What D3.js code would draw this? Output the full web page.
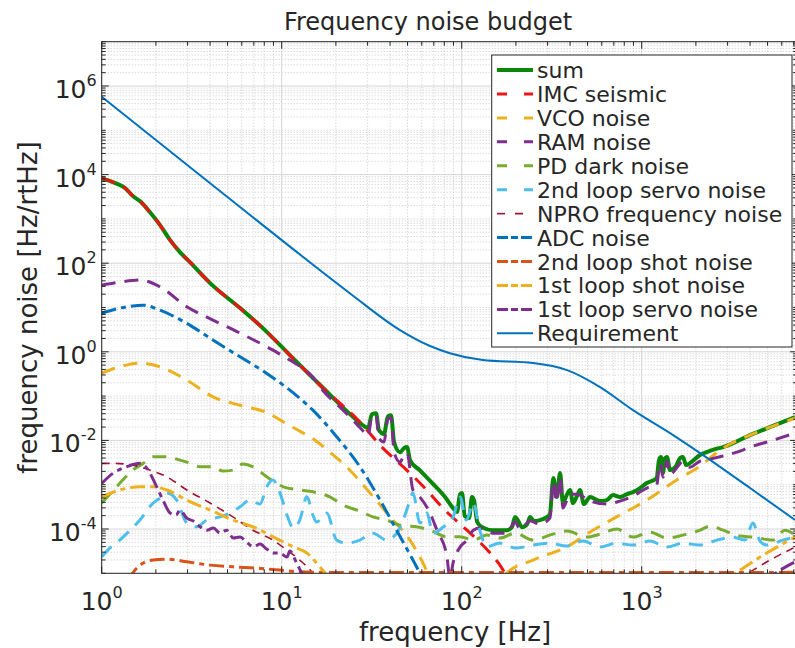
<!DOCTYPE html>
<html>
<head>
<meta charset="utf-8">
<script src="https://cdn.jsdelivr.net/npm/d3@7/dist/d3.min.js"></script>
<style>
  body { margin: 0; background: #fff; }
  svg text { font-family: "DejaVu Sans", sans-serif; fill: #262626; }
</style>
</head>
<body>
<script>
const WIDTH = 795, HEIGHT = 648;
const PLOT = { left: 101.7, right: 797.1, top: 41.7, bottom: 573.3 };
const X_DOMAIN = [1, 7300];
const Y_DOMAIN = [1e-5, 1e7];
const X_TICKS = [1, 10, 100, 1000];
const Y_TICKS = [1e-4, 1e-2, 1, 1e2, 1e4, 1e6];

const LABELS = [
  "sum", "IMC seismic", "VCO noise", "RAM noise", "PD dark noise",
  "2nd loop servo noise", "NPRO frequency noise", "ADC noise",
  "2nd loop shot noise", "1st loop shot noise", "1st loop servo noise", "Requirement",
];

// [frequency Hz, noise Hz/rtHz]
const sumNoise = [
  [1, 8.3e3], [1.19, 6.4e3], [1.35, 4.95e3], [1.49, 3.27e3], [1.63, 2.52e3], [1.85, 1.43e3],
  [2.11, 725], [2.4, 332], [2.72, 178], [3.09, 106], [4.0, 35.6], [5.87, 9.7], [8.07, 3.09],
  [10.7, 0.98], [16.3, 0.18], [26.1, 0.0287], [28.7, 0.021], [30.2, 0.019], [31.7, 0.039],
  [33.4, 0.041], [34.7, 0.017], [37.0, 0.0139], [38.9, 0.035], [40.5, 0.037], [42.1, 0.0092],
  [45.4, 0.0054], [47.8, 0.0067], [49.7, 0.0071], [51.6, 0.0036], [58.6, 0.0021], [69.3, 0.00104],
  [80.8, 5.25e-4], [89.5, 2.96e-4], [94.2, 2.41e-4], [97.9, 6.14e-4], [100.4, 6.46e-4],
  [104, 1.96e-4], [110, 1.76e-4], [114, 5.25e-4], [117, 4.49e-4], [122, 1.43e-4], [130, 1.1e-4],
  [149, 9.4e-5], [178, 9.4e-5], [190, 1.1e-4], [198, 1.86e-4], [205, 1.59e-4], [216, 1.1e-4],
  [231, 1.29e-4], [240, 1.86e-4], [252, 1.51e-4], [272, 1.59e-4], [297, 1.86e-4], [309, 2.17e-4],
  [323, 1.41e-3], [337, 5.25e-4], [352, 1.83e-3], [365, 3.85e-4], [383, 5.82e-4], [400, 7.6e-4],
  [415, 3.85e-4], [439, 5.82e-4], [454, 7.6e-4], [478, 3.65e-4], [516, 5.25e-4], [586, 4.27e-4],
  [640, 4.49e-4], [693, 5.82e-4], [757, 5.25e-4], [828, 6.14e-4], [895, 6.81e-4], [979, 8.4e-4],
  [1067, 1.09e-3], [1211, 1.41e-3], [1248, 3.59e-3], [1280, 4.2e-3], [1313, 1.83e-3],
  [1347, 3.98e-3], [1382, 4.2e-3], [1436, 2.14e-3], [1551, 2.63e-3], [1632, 3.98e-3],
  [1695, 4.2e-3], [1763, 2.77e-3], [1854, 3.07e-3], [2109, 4.66e-3], [2297, 5.44e-3],
  [2554, 6.37e-3], [2831, 7.06e-3], [3316, 9.16e-3], [3997, 0.0132], [4842, 0.018],
  [5867, 0.0246], [7110, 0.0336],
];
const imcSeismic = [
  [1, 8.3e3], [1.19, 6.4e3], [1.35, 4.95e3], [1.49, 3.27e3], [1.63, 2.52e3], [1.85, 1.43e3],
  [2.11, 725], [2.4, 332], [2.72, 178], [3.09, 106], [4.0, 35.6], [5.87, 9.7], [8.07, 3.09],
  [10.7, 0.98], [16.3, 0.177], [27.2, 0.0259], [36.5, 0.0067], [49.5, 0.00214], [63.9, 7.6e-4],
  [78.7, 2.96e-4], [107, 9.4e-5], [126, 5.06e-5], [144, 2.86e-5], [163, 1.53e-5], [174, 1.01e-5],
  [185, 7e-6],
];
const vcoNoise = [
  [1, 0.33], [1.26, 0.458], [1.63, 0.556], [2.11, 0.458], [2.97, 0.23], [4.15, 0.096],
  [5.87, 0.062], [8.39, 0.0413], [10.7, 0.0233], [12.6, 0.0162], [15.6, 0.0096], [18.5, 0.00544],
  [23.0, 0.00251], [31.0, 6.46e-4], [40.0, 1.88e-4], [51.6, 5.61e-5], [61.0, 1.7e-5], [66.7, 7.8e-6],
  [75, 4e-6], [150, 4e-6], [178, 1.01e-5], [249, 1.99e-5], [383, 3.96e-5], [536, 9.4e-5],
  [726, 1.88e-4], [1067, 4.49e-4], [1564, 1.27e-3], [2109, 2.63e-3], [2723, 6.04e-3],
  [3997, 0.0132], [5360, 0.021], [7110, 0.0319],
];
const ramNoise = [
  [1, 32], [1.26, 37.4], [1.63, 41.6], [2.11, 29.3], [2.97, 10.4], [4.15, 5.2], [5.87, 2.64],
  [8.26, 1.3], [11.1, 0.65], [14.9, 0.269], [16.9, 0.136], [21.9, 0.0483], [26.1, 0.0233],
  [28.7, 0.0154], [30.2, 0.0125], [31.7, 0.0354], [33.4, 0.0372], [34.7, 0.0113], [37.0, 0.00916],
  [38.9, 0.0303], [40.5, 0.0319], [42.1, 0.00544], [45.4, 0.00324], [47.8, 0.00466], [49.7, 0.00517],
  [53.6, 7.6e-4], [58.6, 5.25e-4], [66.7, 2.29e-4], [72.9, 9.4e-5], [82.5, 2.58e-5], [86.1, 7.8e-6],
  [89.5, 1.7e-5], [97.9, 3.9e-5], [107, 5.61e-5], [116, 9.4e-5], [126, 1.05e-4], [149, 8.07e-5],
  [178, 8.07e-5], [198, 1.43e-4], [211, 9.95e-5], [240, 1.51e-4], [272, 1.29e-4], [309, 1.76e-4],
  [323, 1.21e-3], [337, 4.05e-4], [352, 1.48e-3], [365, 2.96e-4], [400, 6.14e-4], [454, 5.82e-4],
  [516, 4.27e-4], [640, 3.65e-4], [757, 4.27e-4], [895, 5.53e-4], [1067, 8.4e-4], [1211, 9.8e-4],
  [1264, 3.07e-3], [1313, 1.48e-3], [1382, 3.41e-3], [1436, 1.73e-3], [1695, 3.24e-3],
  [1854, 2.49e-3], [2109, 3.41e-3], [2396, 3.78e-3], [2831, 4.43e-3], [3516, 5.73e-3],
  [3997, 7.06e-3], [5162, 9.64e-3], [7110, 0.0146],
];
const pdDarkNoise = [
  [1, 3.85e-4], [1.21, 8.97e-4], [1.49, 2.14e-3], [1.7, 3.03e-3], [1.93, 4.27e-3], [2.3, 4.27e-3],
  [2.72, 3.59e-3], [3.09, 3.07e-3], [3.52, 2.54e-3], [4.15, 2.54e-3], [4.72, 2.03e-3], [5.36, 2.14e-3],
  [6.1, 2.92e-3], [6.93, 2.54e-3], [8.26, 1.51e-3], [10.2, 8.97e-4], [12.6, 7.6e-4], [14.9, 6.9e-4],
  [18.5, 5.33e-4], [21.9, 3.47e-4], [27.2, 2.54e-4], [32.1, 1.88e-4], [38.3, 1.59e-4], [45.4, 1.22e-4],
  [56.2, 1.12e-4], [66.7, 9.4e-5], [82.5, 6.67e-5], [97.9, 6.67e-5], [116, 5.61e-5], [138, 7.28e-5],
  [163, 6.24e-5], [198, 8.07e-5], [249, 5.61e-5], [309, 7.28e-5], [385, 8.97e-5], [495, 6.56e-5],
  [586, 7.67e-5], [729, 9.95e-5], [895, 6.56e-5], [1112, 8.51e-5], [1382, 6.24e-5], [1695, 7.28e-5],
  [2109, 9.4e-5], [2396, 1.16e-4], [2831, 9.4e-5], [3516, 6.92e-5], [4150, 6.56e-5], [5360, 5.61e-5],
  [6252, 9.4e-5], [7110, 7.28e-5],
];
const servo2Noise = [
  [1, 2.36e-5], [1.11, 3.71e-5], [1.26, 5.61e-5], [1.44, 9.4e-5], [1.63, 1.59e-4], [1.93, 3.85e-4],
  [2.11, 4.99e-4], [2.3, 6.46e-4], [2.61, 4.49e-4], [2.97, 1.36e-4], [3.37, 1.12e-4], [3.83, 1.59e-4],
  [4.54, 1.88e-4], [5.16, 2.29e-4], [5.87, 3.17e-4], [6.67, 4.49e-4], [7.57, 3.65e-4], [8.26, 8.97e-4],
  [8.95, 1.27e-3], [9.79, 6.46e-4], [10.7, 2.06e-4], [11.6, 1.05e-4], [12.6, 1.59e-4], [13.8, 5.33e-4],
  [14.9, 2.06e-4], [15.6, 1.43e-4], [17.8, 2.29e-4], [20.2, 5.61e-5], [23.0, 4.8e-5], [27.2, 5.61e-5],
  [32.1, 8.07e-5], [38.3, 5.61e-5], [45.4, 1.05e-4], [49.5, 2.67e-4], [53.6, 6.46e-4], [58.6, 1.36e-4],
  [63.9, 2.29e-4], [69.3, 8.07e-5], [78.7, 1.1e-4], [89.5, 1.86e-4], [97.9, 5.25e-4], [106, 1.59e-4],
  [116, 3.85e-4], [126, 9.4e-5], [138, 3.96e-5], [163, 4.8e-5], [200, 3.71e-5], [249, 4.33e-5],
  [309, 4.8e-5], [383, 4.11e-5], [472, 5.33e-5], [586, 3.9e-5], [720, 4.8e-5], [895, 4.33e-5],
  [1112, 5.33e-5], [1377, 3.9e-5], [1695, 4.8e-5], [2109, 4.33e-5], [2620, 5.61e-5], [3215, 6.56e-5],
  [3750, 5.61e-5], [4150, 1.36e-4], [4542, 5.33e-5], [4946, 4.33e-5], [6095, 5.61e-5], [7110, 6.56e-5],
];
const nproNoise = [
  [1, 3.03e-3], [1.16, 3.03e-3], [1.49, 2.77e-3], [1.85, 2.14e-3], [2.3, 1.51e-3], [2.97, 7.6e-4],
  [4.0, 3.85e-4], [5.36, 1.88e-4], [6.93, 9.4e-5], [8.95, 5.61e-5], [10.7, 3.34e-5], [12.6, 1.99e-5],
  [14.4, 1.18e-5], [15.5, 7.8e-6], [30, 2e-6], [2000, 2e-6], [3750, 9.1e-6], [5162, 1.99e-5],
  [7110, 3.9e-5],
];
const adcNoise = [
  [1, 7.4], [1.38, 10.4], [1.7, 11.3], [2.11, 8.7], [2.97, 4.38], [4.15, 1.84], [5.87, 0.77],
  [8.26, 0.325], [11.1, 0.136], [14.9, 0.0483], [20.2, 0.0121], [27.2, 0.00254], [35.2, 4.49e-4],
  [43.5, 9.4e-5], [53.6, 1.99e-5], [58.6, 1.01e-5], [62.5, 6.3e-6],
];
const shot2Noise = [
  [1.4, 7e-6], [1.53, 1.18e-5], [1.7, 1.7e-5], [1.93, 1.99e-5], [2.3, 2.09e-5], [2.97, 1.82e-5],
  [4.0, 1.53e-5], [5.36, 1.4e-5], [7.26, 1.31e-5], [9.79, 1.18e-5], [12.6, 1.08e-5], [23.9, 1.04e-5],
  [100, 1.04e-5], [1000, 1.04e-5], [7110, 1.05e-5],
];
const shot1Noise = [
  [1, 5.33e-4], [1.26, 7.6e-4], [1.63, 8.97e-4], [1.93, 8.97e-4], [2.3, 7.6e-4], [2.97, 4.49e-4],
  [4.0, 2.67e-4], [5.36, 1.59e-4], [6.93, 1.12e-4], [8.95, 6.67e-5], [11.6, 3.96e-5], [13.8, 2.86e-5],
  [16.3, 1.4e-5], [17.8, 9.1e-6], [25, 2e-6], [2000, 2e-6], [3215, 9.1e-6], [4946, 2.86e-5],
  [7110, 6.56e-5],
];
const servo1Noise = [
  [1, 1.07e-3], [1.16, 1.83e-3], [1.38, 2.54e-3], [1.63, 3.03e-3], [1.78, 2.37e-3], [2.02, 8.97e-4],
  [2.19, 4.49e-4], [2.4, 2.29e-4], [2.59, 2.06e-4], [2.72, 2.67e-4], [2.97, 1.76e-4], [3.23, 1.51e-4],
  [3.52, 1.12e-4], [3.83, 9.4e-5], [4.17, 1.05e-4], [4.54, 8.07e-5], [4.95, 9.4e-5], [5.38, 6.24e-5],
  [5.87, 6.56e-5], [6.39, 5.06e-5], [6.95, 3.96e-5], [7.57, 4.56e-5], [8.26, 3.52e-5], [8.98, 2.86e-5],
  [9.79, 2.86e-5], [10.7, 2.32e-5], [11.1, 3.17e-5], [12.1, 1.7e-5], [13.1, 9.1e-6], [16, 3e-6],
  [4000, 3e-6], [5360, 9.1e-6], [7110, 1.82e-5],
];
const requirement = [
  [1, 5.7e5], [3.52, 9.7e3], [10, 332], [23.9, 21], [45.4, 3.09], [66.7, 1.35], [86, 0.93],
  [131, 0.65], [249, 0.556], [385, 0.386], [587, 0.16], [895, 0.0483], [1494, 0.0132],
  [2193, 0.00466], [4000, 8.4e-4], [7110, 1.6e-4],
];

const SERIES_DATA = [
  sumNoise, imcSeismic, vcoNoise, ramNoise, pdDarkNoise, servo2Noise,
  nproNoise, adcNoise, shot2Noise, shot1Noise, servo1Noise, requirement,
];

// MATLAB-ish line styles: "--" and "-." ; key = pattern used in the legend sample
const DASH = "14,9", DASHDOT = "15,5,5,5", THIN_DASH = "8,6";
const STYLES = [
  { color: "#0a870a", width: 4, dash: null, key: null },
  { color: "#ee1414", width: 3, dash: DASH, key: "10,17" },
  { color: "#edb120", width: 3, dash: DASH, key: "10,17" },
  { color: "#7e2f8e", width: 3, dash: DASH, key: "10,17" },
  { color: "#77ac30", width: 3, dash: DASH, key: "10,17" },
  { color: "#4dbeee", width: 3, dash: DASH, key: "10,17" },
  { color: "#a2142f", width: 1.6, dash: THIN_DASH, key: "8,10" },
  { color: "#0072bd", width: 3, dash: DASHDOT, key: "11,3,7,3" },
  { color: "#d95319", width: 3, dash: DASHDOT, key: "11,3,7,3" },
  { color: "#edb120", width: 3, dash: DASHDOT, key: "11,3,7,3" },
  { color: "#7e2f8e", width: 3, dash: DASHDOT, key: "11,3,7,3" },
  { color: "#0072bd", width: 2, dash: null, key: null },
];

const x = d3.scaleLog().domain(X_DOMAIN).range([PLOT.left, PLOT.right]);
const y = d3.scaleLog().domain(Y_DOMAIN).range([PLOT.bottom, PLOT.top]);

function minorValues(domain) {
  const out = [];
  const lo = Math.floor(Math.log10(domain[0])), hi = Math.ceil(Math.log10(domain[1]));
  for (let e = lo; e <= hi; e++) {
    for (let k = 1; k < 10; k++) {
      const v = k * Math.pow(10, e);
      if (v >= domain[0] && v <= domain[1]) out.push(v);
    }
  }
  return out;
}
const isMajor = (v, majors) => majors.some(m => Math.abs(Math.log10(v) - Math.log10(m)) < 1e-6);

const svg = d3.select("body").append("svg")
  .attr("width", WIDTH).attr("height", HEIGHT)
  .attr("viewBox", [0, 0, WIDTH, HEIGHT]);

svg.append("defs").append("clipPath").attr("id", "plotclip")
  .append("rect")
  .attr("x", PLOT.left).attr("y", PLOT.top)
  .attr("width", PLOT.right - PLOT.left).attr("height", PLOT.bottom - PLOT.top);

// grid: dotted minor, solid major
const xMinor = minorValues(X_DOMAIN).filter(v => !isMajor(v, X_TICKS));
const yMinor = minorValues(Y_DOMAIN).filter(v => !isMajor(v, Y_TICKS));
const grid = svg.append("g");
grid.append("g").attr("stroke", "#c9c9c9").attr("stroke-dasharray", "1,2")
  .call(g => g.selectAll(".vx").data(xMinor).join("line")
    .attr("x1", d => x(d)).attr("x2", d => x(d)).attr("y1", PLOT.top).attr("y2", PLOT.bottom))
  .call(g => g.selectAll(".hy").data(yMinor).join("line")
    .attr("y1", d => y(d)).attr("y2", d => y(d)).attr("x1", PLOT.left).attr("x2", PLOT.right));
grid.append("g").attr("stroke", "#d6d6d6")
  .call(g => g.selectAll(".vx").data(X_TICKS).join("line")
    .attr("x1", d => x(d)).attr("x2", d => x(d)).attr("y1", PLOT.top).attr("y2", PLOT.bottom))
  .call(g => g.selectAll(".hy").data(Y_TICKS).join("line")
    .attr("y1", d => y(d)).attr("y2", d => y(d)).attr("x1", PLOT.left).attr("x2", PLOT.right));

// curves
const plot = svg.append("g").attr("clip-path", "url(#plotclip)").attr("fill", "none");
const line = d3.line().x(d => x(d[0])).y(d => y(d[1])).curve(d3.curveMonotoneX);
SERIES_DATA.forEach((data, i) => {
  const st = STYLES[i];
  plot.append("path")
    .attr("d", line(data))
    .attr("stroke", st.color)
    .attr("stroke-width", st.width)
    .attr("stroke-dasharray", st.dash)
    .attr("stroke-linejoin", "round");
});

// ticks (inward, all sides)
const ticks = svg.append("g").attr("stroke", "#262626").attr("stroke-width", 1);
ticks.selectAll(".tx").data(minorValues(X_DOMAIN)).join("path")
  .attr("d", d => {
    const len = isMajor(d, X_TICKS) ? 7 : 4;
    return `M${x(d)},${PLOT.bottom}v${-len}M${x(d)},${PLOT.top}v${len}`;
  });
ticks.selectAll(".ty").data(minorValues(Y_DOMAIN)).join("path")
  .attr("d", d => {
    const len = isMajor(d, Y_TICKS) ? 7 : 4;
    return `M${PLOT.left},${y(d)}h${len}M${PLOT.right},${y(d)}h${-len}`;
  });

// frame
svg.append("rect")
  .attr("x", PLOT.left).attr("y", PLOT.top)
  .attr("width", PLOT.right - PLOT.left).attr("height", PLOT.bottom - PLOT.top)
  .attr("fill", "none").attr("stroke", "#262626").attr("stroke-width", 1);

// tick labels
const expOf = d => Math.round(Math.log10(d));
const xLab = svg.append("g").selectAll("text").data(X_TICKS).join("text")
  .attr("x", d => x(d)).attr("y", 610)
  .attr("text-anchor", "middle").attr("font-size", 25);
xLab.append("tspan").text("10");
xLab.append("tspan").attr("dy", -12).attr("font-size", 16).text(d => expOf(d));

const yLab = svg.append("g").selectAll("text").data(Y_TICKS).join("text")
  .attr("x", PLOT.left - 5).attr("y", d => y(d) + 12)
  .attr("text-anchor", "end").attr("font-size", 25);
yLab.append("tspan").text("10");
yLab.append("tspan").attr("dy", -12).attr("font-size", 16).text(d => expOf(d));

// axis labels + title
svg.append("text")
  .attr("x", 455).attr("y", 641)
  .attr("text-anchor", "middle").attr("font-size", 26)
  .text("frequency [Hz]");
svg.append("text")
  .attr("transform", `translate(37, ${(PLOT.top + PLOT.bottom) / 2}) rotate(-90)`)
  .attr("text-anchor", "middle").attr("font-size", 26)
  .text("frequency noise [Hz/rtHz]");
svg.append("text")
  .attr("x", 428).attr("y", 30)
  .attr("text-anchor", "middle").attr("font-size", 24)
  .text("Frequency noise budget");

// legend
const LEG = { x: 491.7, y: 55, w: 300.3, h: 292, row: 23.94, first: 70 };
const legend = svg.append("g");
legend.append("rect")
  .attr("x", LEG.x).attr("y", LEG.y).attr("width", LEG.w).attr("height", LEG.h)
  .attr("fill", "#fff").attr("stroke", "#262626").attr("stroke-width", 1);
const rows = legend.selectAll(".row").data(LABELS).join("g")
  .attr("transform", (d, i) => `translate(0, ${LEG.first + i * LEG.row})`);
rows.append("line")
  .attr("x1", 497).attr("x2", 533).attr("y1", 0).attr("y2", 0)
  .attr("stroke", (d, i) => STYLES[i].color)
  .attr("stroke-width", (d, i) => Math.min(STYLES[i].width, i === 0 ? 4 : 3))
  .attr("stroke-dasharray", (d, i) => STYLES[i].key);
rows.append("text")
  .attr("x", 537).attr("y", 8)
  .attr("font-size", 22)
  .text(d => d);
</script>
</body>
</html>
